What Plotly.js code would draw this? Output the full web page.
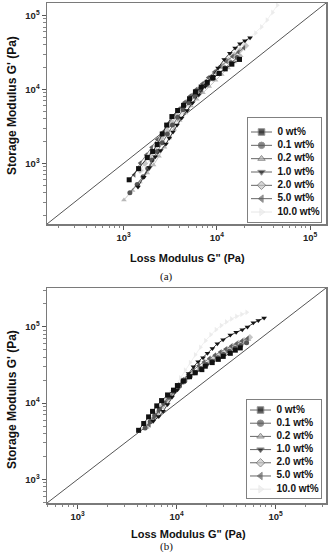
<!DOCTYPE html>
<html>
<head>
<meta charset="utf-8">
<script src="https://cdn.plot.ly/plotly-3.0.1.min.js"></script>
<style>html,body{margin:0;padding:0;background:#fff}#chart{width:331px;height:552px}</style>
</head>
<body>
<div id="chart"></div>
<script>
// ---------- data ----------
const seriesNames = ["0 wt%", "0.1 wt%", "0.2 wt%", "1.0 wt%", "2.0 wt%", "5.0 wt%", "10.0 wt%"];
const tickVals = [1000, 10000, 100000];
const tickText = ["10<sup>3</sup>", "10<sup>4</sup>", "10<sup>5</sup>"];

// panel (a): G'' (x) and G' (y), Pa
const a_x_0  = [1150,1450,1800,2050,2300,2600,2900,3300,3800,4400,5100,5900,6800,7900,9100,10600,12300,14500,17500];
const a_y_0  = [600,850,1200,1450,1800,2500,3300,4300,5200,6100,7500,9300,10800,12500,14500,16500,19000,22000,25500];
const a_x_01 = [1170,1400,1620,1820,2020,2300,2600,2950,3350,3800,4350,5000,5800,6700,7800,9000,10500,12200,14200,16500];
const a_y_01 = [400,520,660,850,1110,1450,1900,2500,3300,4200,5300,6600,8100,9800,11800,14000,16500,19500,23000,27000];
const a_x_02 = [1010,1250,1500,1800,2100,2400,2750,3100,3500,4000,4600,5300,6100,7100,8300,9700,11300,13200,15500,18000];
const a_y_02 = [320,430,560,740,950,1250,1650,2200,2900,3800,4800,6000,7400,9000,11000,13300,16000,19500,23500,28500];
const a_x_1  = [1430,1650,1900,2190,2500,2850,3100,3390,3750,4200,4800,5500,6400,7500,8800,10300,12000,13800,15700,17700,20000,22700];
const a_y_1  = [480,650,880,1230,1500,1830,2200,2660,3300,4100,5200,6600,8500,11000,14500,19500,25500,31000,36500,41500,45500,50000];
const a_x_2  = [1500,1700,1950,2250,2550,2900,3300,3750,4300,4900,5600,6500,7500,8700,10000,11600,13400,15500,17800,20500];
const a_y_2  = [800,1000,1300,1700,2200,2800,3600,4500,5600,6900,8400,10200,12300,14800,17800,21000,25000,29500,34000,39000];
const a_x_5  = [1300,1510,1750,2000,2300,2650,3000,3400,3900,4500,5200,6000,7000,8100,9400,10900,12700,14700,17000,19500];
const a_y_5  = [700,1010,1300,1650,2100,2650,3400,4300,5400,6700,8200,10000,12000,14500,17300,20500,24000,28000,32000,36500];
const a_x_10 = [1600,1900,2250,2650,3100,3600,4200,4900,5700,6700,7800,9100,10600,12300,14300,16600,19300,22400,26000,30000,34500,39500,44500];
const a_y_10 = [800,1100,1500,2000,2700,3600,4700,6100,7900,10100,12800,16100,20000,24500,29500,35000,41500,49000,58000,70000,87000,110000,138000];

// panel (b)
const b_x_0  = [4130,4650,5210,5710,6300,7050,8100,9300,10200,11700,13500,15400,18000,19500,22900,26400,29600,34900,39200,44000];
const b_y_0  = [4400,5400,6600,7800,9200,10800,12800,14800,17000,19500,22200,25000,27500,30500,34000,37500,41000,45000,49500,53000];
const b_x_01 = [4800,5400,6000,6700,7500,8400,9500,10700,12100,13700,15500,17600,20000,22800,26000,29700,34000,39000,44500,51000];
const b_y_01 = [4700,5700,6900,8300,10000,12000,14300,16800,19500,22300,25300,28500,32000,35500,39500,43500,48000,52500,57000,62000];
const b_x_02 = [5000,5600,6300,7000,7900,8900,10000,11300,12800,14500,16500,18800,21400,24400,27800,31700,36100,41100,46800,53300];
const b_y_02 = [4800,5900,7200,8800,10600,12800,15300,18000,21000,24000,27200,30600,34300,38200,42300,46800,51500,56500,62000,68000];
const b_x_1  = [5800,6600,7300,8100,9000,10200,11600,13200,14800,16500,18500,20500,23000,25800,29500,34900,40000,46100,52000,59600,67000,76700];
const b_y_1  = [5800,6700,7800,9600,12000,15000,19000,24500,30000,35000,39500,45000,52000,60000,68000,78000,85000,91500,100000,113000,121000,131000];
const b_x_2  = [5100,5700,6400,7200,8100,9100,10300,11700,13200,15000,17000,19300,22000,25000,28500,32500,37000,42200,48100,55000];
const b_y_2  = [5000,6100,7500,9200,11200,13500,16200,19200,22400,25800,29400,33200,37300,41600,46200,51000,56000,61500,67000,73000];
const b_x_5  = [5300,5900,6600,7300,8200,9200,10300,11600,13100,14800,16700,18900,21400,24300,27600,31300,35500,40300,45700,52000];
const b_y_5  = [5200,6400,7900,9800,12000,14500,17300,20400,23800,27400,31000,34700,38600,42600,46800,51200,55800,60500,65500,70500];
const b_x_10 = [5600,6300,7000,7800,8700,9700,10900,12200,13700,15400,17400,19600,22100,25000,28200,31800,35800,40300,45400,51200];
const b_y_10 = [5600,7000,8700,10900,13600,17000,21500,27000,34000,43000,54000,66000,79000,92000,104000,116000,127000,137000,146000,155000];

// ---------- styles ----------
const colors  = ["#111111", "#555555", "#b9b9b9", "#151515", "#c6c6c6", "#606060", "#ececec"];
const symbols = ["square", "circle", "triangle-up", "triangle-down", "diamond", "triangle-left", "triangle-right"];

const aX = [a_x_0, a_x_01, a_x_02, a_x_1, a_x_2, a_x_5, a_x_10];
const aY = [a_y_0, a_y_01, a_y_02, a_y_1, a_y_2, a_y_5, a_y_10];
const bX = [b_x_0, b_x_01, b_x_02, b_x_1, b_x_2, b_x_5, b_x_10];
const bY = [b_y_0, b_y_01, b_y_02, b_y_1, b_y_2, b_y_5, b_y_10];

const rangeA = [2.18, 5.17];
const rangeB = [2.69, 5.51];

const traces = [];
// diagonal G' = G''
traces.push({x:[Math.pow(10,rangeA[0]), Math.pow(10,rangeA[1])], y:[Math.pow(10,rangeA[0]), Math.pow(10,rangeA[1])],
  xaxis:'x', yaxis:'y', mode:'lines', line:{color:'#555', width:1}, hoverinfo:'skip'});
traces.push({x:[Math.pow(10,rangeB[0]), Math.pow(10,rangeB[1])], y:[Math.pow(10,rangeB[0]), Math.pow(10,rangeB[1])],
  xaxis:'x2', yaxis:'y2', mode:'lines', line:{color:'#555', width:1}, hoverinfo:'skip'});

// lighter series first so dark ones stay on top
const order = [6, 4, 2, 5, 1, 3, 0];
order.forEach(i => {
  traces.push({x:aX[i], y:aY[i], xaxis:'x', yaxis:'y', mode:'lines+markers', name:seriesNames[i],
    line:{color:colors[i], width:0.8}, marker:{symbol:symbols[i], color:colors[i], size:5}});
  traces.push({x:bX[i], y:bY[i], xaxis:'x2', yaxis:'y2', mode:'lines+markers', name:seriesNames[i],
    line:{color:colors[i], width:0.8}, marker:{symbol:symbols[i], color:colors[i], size:5}});
});

// manual legends (one per panel)
[['x3','y3'],['x4','y4']].forEach(([xa, ya]) => {
  seriesNames.forEach((nm, i) => {
    traces.push({x:[3, 13.5, 24], y:[i, i, i], xaxis:xa, yaxis:ya, mode:'lines+markers',
      line:{color: i === 6 ? '#e6e6e6' : '#666', width:1},
      marker:{symbol:symbols[i], color:colors[i], size:[0, 6.5, 0]}, hoverinfo:'skip'});
  });
  traces.push({x:seriesNames.map(() => 29.5), y:seriesNames.map((n, i) => i), xaxis:xa, yaxis:ya,
    mode:'text', text:seriesNames, textposition:'middle right',
    textfont:{family:'Liberation Sans, Arial, sans-serif', size:10, color:'#111', weight:'bold'}, hoverinfo:'skip'});
});

function minorVals(lo, hi) {
  const v = [];
  for (let e = Math.floor(lo); e <= Math.ceil(hi); e++) {
    for (let d = 2; d <= 9; d++) {
      const val = d * Math.pow(10, e);
      const l = Math.log10(val);
      if (l > lo && l < hi) v.push(val);
    }
  }
  return v;
}

const tickFont = {family:'Liberation Sans, Arial, sans-serif', size:9.5, color:'#222', weight:'bold'};
function logAxis(range, extra) {
  return Object.assign({
    type:'log', range:range, showline:true, mirror:true, linecolor:'#7a7a7a', linewidth:1.5,
    ticks:'outside', ticklen:4, tickwidth:1, tickcolor:'#555',
    tickvals:tickVals, ticktext:tickText, tickfont:tickFont,
    minor:{ticks:'outside', ticklen:2.5, tickwidth:0.8, tickcolor:'#666', tickvals:minorVals(range[0], range[1])},
    showgrid:false, zeroline:false, fixedrange:true
  }, extra);
}
function boxAxis(domain, range, extra) {
  return Object.assign({domain:domain, range:range, showline:true, mirror:true, linecolor:'#808080', linewidth:1.2,
    showticklabels:false, ticks:'', showgrid:false, zeroline:false, fixedrange:true}, extra);
}

const plotTop = 3, plotBot = 503, plotH = 500, plotL = 47, plotW = 279;
const py = p => (plotBot - p) / plotH;   // pixel row -> paper y
const pxp = p => (p - plotL) / plotW;    // pixel column -> paper x

const titleFont = {family:'Liberation Sans, Arial, sans-serif', size:11, color:'#111', weight:'bold'};
const yTitleFont = {family:'Liberation Sans, Arial, sans-serif', size:12, color:'#111', weight:'bold'};
const capFont = {family:'Liberation Serif, Times New Roman, serif', size:11, color:'#111'};

const layout = {
  width:331, height:552,
  margin:{l:plotL, r:331 - plotL - plotW, t:plotTop, b:552 - plotBot},
  paper_bgcolor:'#fff', plot_bgcolor:'#fff', showlegend:false,
  xaxis: logAxis(rangeA, {domain:[0,1], anchor:'y'}),
  yaxis: logAxis(rangeA, {domain:[py(224), 1], anchor:'x'}),
  xaxis2: logAxis(rangeB, {domain:[0,1], anchor:'y2'}),
  yaxis2: logAxis(rangeB, {domain:[0, py(288)], anchor:'x2'}),
  xaxis3: boxAxis([pxp(248), pxp(321)], [0, 73], {anchor:'y3'}),
  yaxis3: boxAxis([py(222), py(118)], [6.75, -1.05], {anchor:'x3'}),
  xaxis4: boxAxis([pxp(247), pxp(321)], [0, 74], {anchor:'y4'}),
  yaxis4: boxAxis([py(498), py(400)], [6.67, -0.76], {anchor:'x4'}),
  annotations:[
    {text:'Loss Modulus G" (Pa)', xref:'paper', yref:'paper', x:pxp(187), y:py(258), showarrow:false, font:titleFont, xanchor:'center', yanchor:'middle'},
    {text:'Loss Modulus G" (Pa)', xref:'paper', yref:'paper', x:pxp(188), y:py(534), showarrow:false, font:titleFont, xanchor:'center', yanchor:'middle'},
    {text:"Storage Modulus G' (Pa)", xref:'paper', yref:'paper', x:pxp(12), y:py(106), showarrow:false, font:yTitleFont, textangle:-90, xanchor:'center', yanchor:'middle'},
    {text:"Storage Modulus G' (Pa)", xref:'paper', yref:'paper', x:pxp(12), y:py(400), showarrow:false, font:yTitleFont, textangle:-90, xanchor:'center', yanchor:'middle'},
    {text:'(a)', xref:'paper', yref:'paper', x:pxp(166), y:py(276), showarrow:false, font:capFont, xanchor:'center', yanchor:'middle'},
    {text:'(b)', xref:'paper', yref:'paper', x:pxp(166), y:py(546), showarrow:false, font:capFont, xanchor:'center', yanchor:'middle'}
  ]
};

Plotly.newPlot('chart', traces, layout, {staticPlot:true, displayModeBar:false});
</script>
</body>
</html>
